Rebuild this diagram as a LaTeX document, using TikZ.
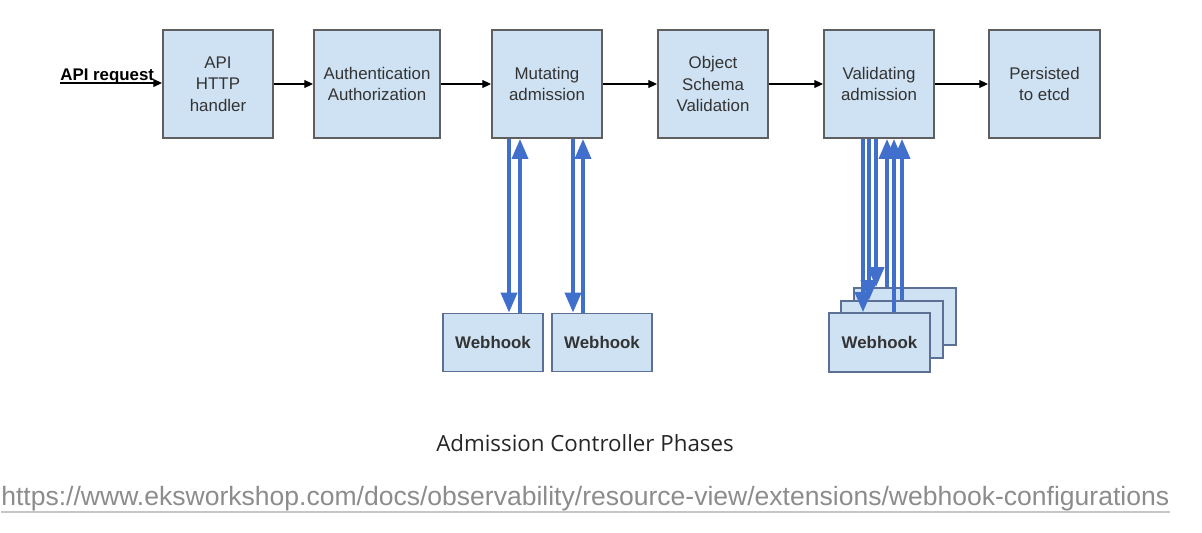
\documentclass[tikz,border=0pt]{standalone}
\usepackage{fontspec}
\setmainfont{Liberation Sans}
\newfontfamily\captionfont{Open Sans}
\usetikzlibrary{arrows.meta}
\definecolor{boxfill}{RGB}{207,226,243}
\definecolor{boxline}{RGB}{95,95,95}
\definecolor{hookline}{RGB}{92,112,150}
\definecolor{callblue}{RGB}{64,112,204}
\definecolor{textgray}{RGB}{51,51,51}
\definecolor{urlgray}{RGB}{140,140,140}
\tikzset{phase/.style={draw=boxline, line width=1.1pt, fill=boxfill, minimum width=2.2cm,
      minimum height=2.16cm, align=center, inner sep=0pt, text=textgray,
      font=\fontsize{9.6}{12.3}\selectfont}}
\tikzset{webhook/.style={draw=hookline, line width=1pt, fill=boxfill, minimum width=2cm,
      minimum height=1.16cm, inner sep=0pt, text=textgray,
      font=\bfseries\fontsize{9.6}{12}\selectfont}}
\tikzset{flow/.style={-{Triangle[length=5pt,width=4.5pt]}, line width=0.8pt}}
\tikzset{call/.style={-{Triangle[length=0.4cm,width=0.32cm]}, draw=callblue, line width=2.1pt}}

\begin{document}
\begin{tikzpicture}[x=0.02cm, y=-0.02cm]
    \useasboundingbox (0,0) rectangle (1202,532);
    % request and phases
    \coordinate (req) at (60,83);
    \node[anchor=base west, inner sep=0pt, text=black, font=\bfseries\fontsize{9.6}{12}\selectfont] (reqlabel) at (60,80) {API request};
    \node[phase] (http) at (218,84) {API\\HTTP\\handler};
    \node[phase, minimum width=2.52cm] (auth) at (377,84) {Authentication\\Authorization};
    \node[phase] (mutate) at (547,84) {Mutating\\admission};
    \node[phase] (schema) at (713,84) {Object\\Schema\\Validation};
    \node[phase] (validate) at (879,84) {Validating\\admission};
    \node[phase, minimum width=2.22cm] (etcd) at (1044.5,84) {Persisted\\to etcd};
    \draw[flow] (req) -- (http.west |- req);
    \draw[flow] (http) -- (auth);
    \draw[flow] (auth) -- (mutate);
    \draw[flow] (mutate) -- (schema);
    \draw[flow] (schema) -- (validate);
    \draw[flow] (validate) -- (etcd);
    % webhooks
    \node[webhook] (hooka) at (493,342.5) {Webhook};
    \node[webhook] (hookb) at (602,342.5) {Webhook};
    \node[webhook, minimum width=2.04cm, minimum height=1.14cm] (hookr) at (905,316.5) {};
    \node[webhook, minimum width=2.04cm, minimum height=1.14cm] (hookm) at (892,329.5) {};
    \node[webhook, minimum width=2.02cm, minimum height=1.18cm] (hookf) at (879.5,342.5) {Webhook};
    \draw[call] (mutate.south -| 509,0) -- (hooka.north -| 509,0);
    \draw[call] (hooka.north -| 520,0) -- (mutate.south -| 520,0);
    \draw[call] (mutate.south -| 573,0) -- (hookb.north -| 573,0);
    \draw[call] (hookb.north -| 583,0) -- (mutate.south -| 583,0);
    \foreach \x/\h in {863/hookf, 869/hookm, 876/hookr}
      \draw[call] (validate.south -| \x,0) -- (\h.north -| \x,0);
    \foreach \x/\h in {887/hookr, 894/hookf, 902/hookm}
      \draw[call] (\h.north -| \x,0) -- (validate.south -| \x,0);
    % caption and source
    \node[anchor=base, inner sep=0pt, text=black!85, font=\captionfont\fontsize{12.7}{15}\selectfont] (caption) at (585,451) {Admission Controller Phases};
    \node[anchor=base west, inner sep=0pt, text=urlgray, font=\fontsize{15.1}{18}\selectfont] (url) at (1,505) {https://www.eksworkshop.com/docs/observability/resource-view/extensions/webhook-configurations};
    \draw[urlgray!50, line width=0.8pt] ([yshift=-4pt]url.base west) -- ([yshift=-4pt]url.base east);
\end{tikzpicture}
\end{document}
